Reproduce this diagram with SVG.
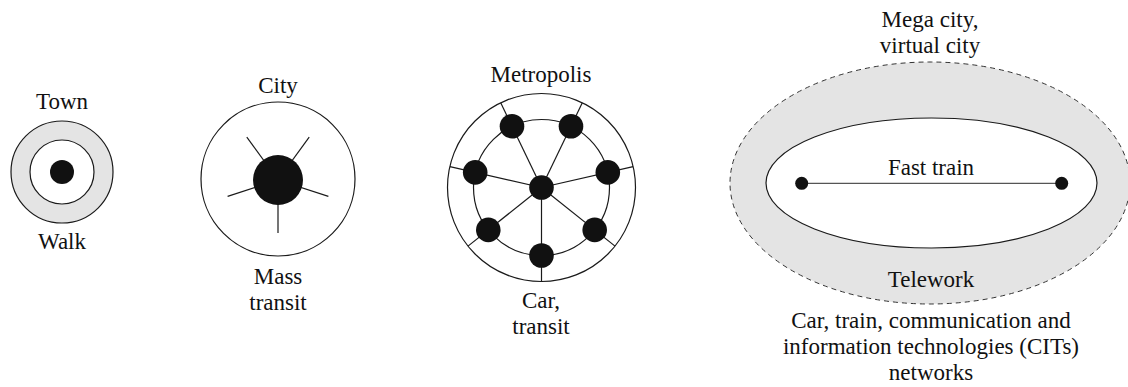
<svg xmlns="http://www.w3.org/2000/svg" width="1128" height="387" viewBox="0 0 1128 387">
<style>
text{font-family:'Liberation Serif','Times New Roman',Times,serif;font-size:23px;fill:#111;text-anchor:middle}
.ln{stroke:#1a1a1a;stroke-width:1.2;fill:none}
.dot{fill:#111}
.gray{fill:#e4e4e4}
</style>
<rect width="1128" height="387" fill="#fff"/>
<g id="town" font-family="Liberation Serif, serif">
<circle cx="62" cy="172" r="51" class="gray" stroke="#1a1a1a" stroke-width="1.2"/>
<circle cx="62" cy="172" r="32" fill="#fff" stroke="#1a1a1a" stroke-width="1.2"/>
<circle cx="62" cy="172" r="12" class="dot"/>
<text x="62" y="109" font-family="Liberation Serif, serif">Town</text>
<text x="62" y="249" font-family="Liberation Serif, serif">Walk</text>
</g>
<g id="city">
<circle cx="278" cy="179" r="77" fill="#fff" stroke="#1a1a1a" stroke-width="1.2"/>
<g class="ln">
<line x1="278" y1="180" x2="278" y2="233"/>
<line x1="278" y1="180" x2="227.6" y2="196.4"/>
<line x1="278" y1="180" x2="328.4" y2="196.4"/>
<line x1="278" y1="180" x2="246.8" y2="137.1"/>
<line x1="278" y1="180" x2="309.2" y2="137.1"/>
</g>
<circle cx="278" cy="180" r="25" class="dot"/>
<text x="278" y="93" font-family="Liberation Serif, serif">City</text>
<text x="278" y="284" font-family="Liberation Serif, serif">Mass</text>
<text x="278" y="310" font-family="Liberation Serif, serif">transit</text>
</g>
<g id="metropolis">
<circle cx="541.5" cy="187.5" r="94" fill="#fff" stroke="#1a1a1a" stroke-width="1.2"/>
<circle cx="541.5" cy="187.5" r="68" class="ln"/>
<g class="ln">
<line x1="541.5" y1="187.5" x2="541.5" y2="281.5"/>
<line x1="541.5" y1="187.5" x2="468.0" y2="246.1"/>
<line x1="541.5" y1="187.5" x2="449.9" y2="166.6"/>
<line x1="541.5" y1="187.5" x2="500.7" y2="102.8"/>
<line x1="541.5" y1="187.5" x2="582.3" y2="102.8"/>
<line x1="541.5" y1="187.5" x2="633.1" y2="166.6"/>
<line x1="541.5" y1="187.5" x2="615.0" y2="246.1"/>
</g>
<g class="dot">
<circle cx="541.5" cy="187.5" r="12.3"/>
<circle cx="541.5" cy="255.5" r="12.3"/>
<circle cx="488.3" cy="229.9" r="12.3"/>
<circle cx="475.2" cy="172.4" r="12.3"/>
<circle cx="512.0" cy="126.2" r="12.3"/>
<circle cx="571.0" cy="126.2" r="12.3"/>
<circle cx="607.8" cy="172.4" r="12.3"/>
<circle cx="594.7" cy="229.9" r="12.3"/>
</g>
<text x="541" y="82" font-family="Liberation Serif, serif">Metropolis</text>
<text x="541" y="308" font-family="Liberation Serif, serif">Car,</text>
<text x="541" y="334" font-family="Liberation Serif, serif">transit</text>
</g>
<g id="megacity">
<ellipse cx="930" cy="183" rx="200" ry="121" class="gray" stroke="#333" stroke-width="1" stroke-dasharray="5,4"/>
<ellipse cx="931.5" cy="183" rx="165.5" ry="65" fill="#fff" stroke="#1a1a1a" stroke-width="1.2"/>
<line x1="801.7" y1="183.3" x2="1061.7" y2="183.3" stroke="#555" stroke-width="1.2"/>
<circle cx="801.7" cy="183.3" r="6.5" class="dot"/>
<circle cx="1061.7" cy="183.3" r="6.5" class="dot"/>
<text x="930" y="27" font-family="Liberation Serif, serif">Mega city,</text>
<text x="930" y="53" font-family="Liberation Serif, serif">virtual city</text>
<text x="931" y="175" font-family="Liberation Serif, serif">Fast train</text>
<text x="931" y="287" font-family="Liberation Serif, serif">Telework</text>
<text x="931" y="328" font-family="Liberation Serif, serif">Car, train, communication and</text>
<text x="931" y="354" font-family="Liberation Serif, serif">information technologies (CITs)</text>
<text x="931" y="380" font-family="Liberation Serif, serif">networks</text>
</g>
</svg>
